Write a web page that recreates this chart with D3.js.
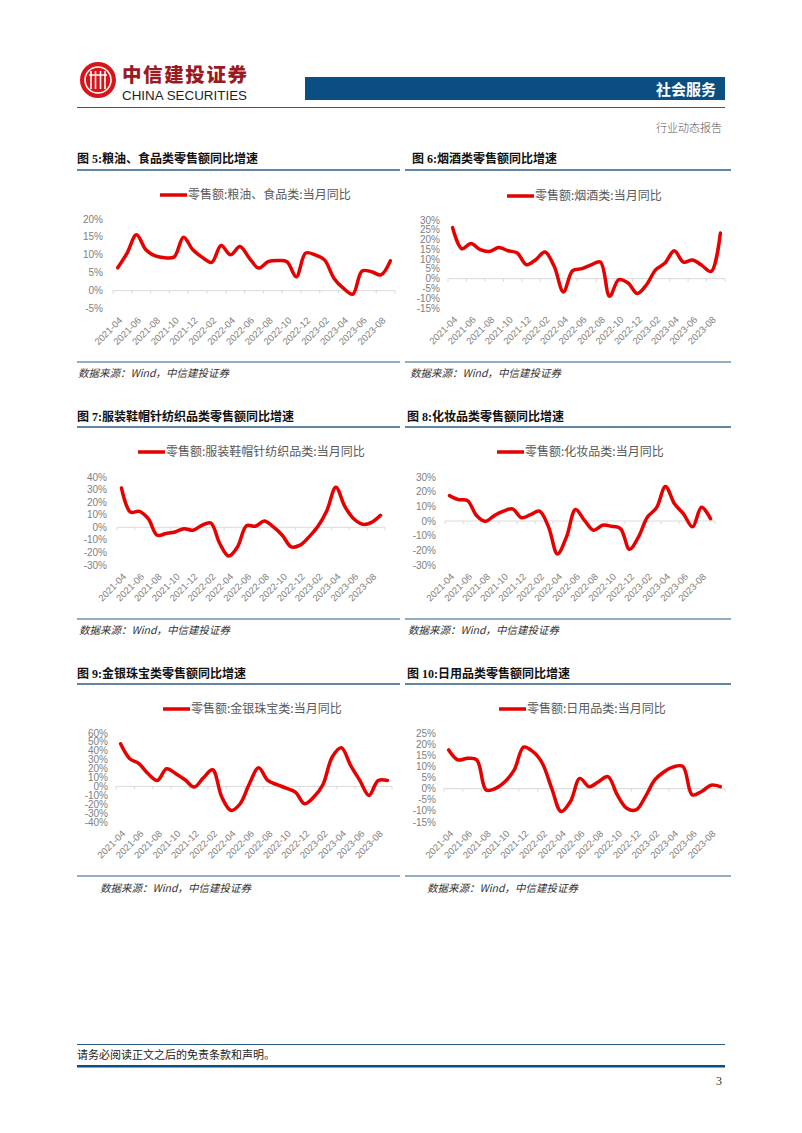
<!DOCTYPE html>
<html><head><meta charset="utf-8">
<script src="https://cdn.jsdelivr.net/npm/d3@7"></script>
<style>body{margin:0;background:#fff}svg{display:block}</style>
</head><body>
<svg id="page" width="802" height="1133"></svg>
<script>
// ---------------- data ----------------
const months = ["2021-04","2021-05","2021-06","2021-07","2021-08","2021-09","2021-10","2021-11","2021-12",
  "2022-01","2022-02","2022-03","2022-04","2022-05","2022-06","2022-07","2022-08","2022-09","2022-10","2022-11","2022-12",
  "2023-01","2023-02","2023-03","2023-04","2023-05","2023-06","2023-07","2023-08","2023-09"];
const tickMonths = months.filter((d, i) => i % 2 === 0);

const titles = ["图 5:粮油、食品类零售额同比增速","图 6:烟酒类零售额同比增速","图 7:服装鞋帽针纺织品类零售额同比增速",
  "图 8:化妆品类零售额同比增速","图 9:金银珠宝类零售额同比增速","图 10:日用品类零售额同比增速"];
const legendNames = ["零售额:粮油、食品类:当月同比","零售额:烟酒类:当月同比","零售额:服装鞋帽针纺织品类:当月同比",
  "零售额:化妆品类:当月同比","零售额:金银珠宝类:当月同比","零售额:日用品类:当月同比"];
const sourceText = "数据来源：Wind，中信建投证券";

const yTicksGrain    = [-5, 0, 5, 10, 15, 20];
const yTicksTobacco  = [-15, -10, -5, 0, 5, 10, 15, 20, 25, 30];
const yTicksClothing = [-30, -20, -10, 0, 10, 20, 30, 40];
const yTicksCosmetic = [-30, -20, -10, 0, 10, 20, 30];
const yTicksJewelry  = [-40, -30, -20, -10, 0, 10, 20, 30, 40, 50, 60];
const yTicksDaily    = [-15, -10, -5, 0, 5, 10, 15, 20, 25];

const grainFood = [6.4,10.5,15.6,11.4,9.7,9.2,9.4,14.9,11.4,9.3,7.9,12.6,10.0,12.3,9.1,6.3,8.1,8.4,8.1,3.9,10.5,10.0,8.6,3.5,0.7,-1.0,5.5,5.3,4.4,8.3];
const tobacco   = [26.1,15.3,18.0,14.8,13.9,16.0,14.3,13.1,7.1,9.7,13.6,6.3,-6.8,4.1,5.1,7.1,8.5,-9.0,-0.5,-2.2,-7.6,-3.1,4.6,8.0,14.3,8.5,9.5,6.8,3.7,23.3];
const clothing  = [31.3,12.1,12.6,6.8,-6.3,-5.0,-3.7,-1.1,-2.4,1.6,3.4,-12.9,-22.9,-15.5,1.3,0.8,5.0,0.3,-6.3,-15.5,-14.2,-7.6,0.8,13.4,31.8,16.6,6.8,2.4,3.9,9.5];
const cosmetics = [17.3,14.6,13.9,3.8,-0.2,3.8,6.7,8.3,2.2,4.3,6.7,-4.0,-22.5,-10.8,7.9,0.4,-6.3,-2.9,-3.6,-5.2,-19.3,-10.8,2.7,9.0,23.6,11.7,4.9,-4.0,9.4,1.6];
const jewelry   = [47.9,31.1,25.5,14.2,6.7,19.9,14.2,7.5,-0.7,9.7,18.7,-12.0,-27.0,-19.5,3.0,21.0,6.7,1.9,-1.9,-6.4,-19.5,-12.0,2.2,33.0,43.4,23.6,6.7,-10.1,6.7,6.7];
const daily     = [17.4,12.9,13.6,12.9,-0.6,0.1,3.1,8.4,18.6,16.6,11.4,0.1,-10.3,-5.8,4.6,0.9,3.1,5.4,-2.8,-8.8,-9.6,-3.6,3.9,7.6,9.8,10.0,-2.8,-1.3,1.5,0.9];

const seriesList = [grainFood, tobacco, clothing, cosmetics, jewelry, daily];
const tickList = [yTicksGrain, yTicksTobacco, yTicksClothing, yTicksCosmetic, yTicksJewelry, yTicksDaily];

// ---------------- layout ----------------
const layout = [
  {tx:77, ty:163, tl:[77,400], tly:170, bl:362, sx:78, sy:377, x0:113, x1:395, yt:219, yb:308.6, lr:103, lgx:160, lgy:195},
  {tx:412, ty:163, tl:[405,731], tly:170, bl:362, sx:410, sy:377, x0:448, x1:725, yt:220, yb:308, lr:440, lgx:507, lgy:196},
  {tx:77, ty:421, tl:[77,400], tly:427, bl:619, sx:79, sy:634, x0:117, x1:385, yt:477, yb:565, lr:107, lgx:138, lgy:452},
  {tx:407, ty:421, tl:[405,731], tly:427, bl:619, sx:408, sy:634, x0:445, x1:715, yt:477, yb:565, lr:436, lgx:497, lgy:452},
  {tx:77, ty:678, tl:[77,400], tly:684, bl:876, sx:100, sy:892, x0:116, x1:392, yt:733, yb:822, lr:108, lgx:163, lgy:709},
  {tx:407, ty:678, tl:[405,731], tly:684, bl:876, sx:427, sy:892, x0:444, x1:725, yt:733, yb:822, lr:436, lgx:499, lgy:709}
];

const RED = "#e60000", BLUE = "#0b4f82", LINEBLUE = "#2c5d87";
const sans = "'Liberation Sans', Arial, 'Noto Sans CJK SC', sans-serif";
const cjk = "'Noto Sans CJK SC', sans-serif";
const serifCjk = "'Liberation Serif', 'Noto Sans CJK SC', serif";

const svg = d3.select("#page");

// ---------------- header ----------------
const logo = svg.append("g").attr("transform", "translate(98,80)");
logo.append("circle").attr("r", 18).attr("fill", "#d7141a");
logo.append("circle").attr("r", 13).attr("fill", "none").attr("stroke", "#fff").attr("stroke-width", 1.6);
[-7, -2.5, 2.5, 7].forEach(dx => {
  logo.append("line").attr("x1", dx).attr("x2", dx).attr("y1", -9).attr("y2", 9).attr("stroke", "#fff").attr("stroke-width", 1.6);
});
logo.append("line").attr("x1", -9).attr("x2", 9).attr("y1", -5).attr("y2", -5).attr("stroke", "#fff").attr("stroke-width", 1.4);

svg.append("text").attr("x", 122).attr("y", 82).attr("font-family", cjk).attr("font-weight", 900)
  .attr("font-size", 19.5).attr("fill", "#9c1a1f").attr("textLength", 125).text("中信建投证券");
svg.append("text").attr("x", 122).attr("y", 100).attr("font-family", sans).attr("font-weight", 400)
  .attr("font-size", 12.5).attr("fill", "#231f20").attr("textLength", 125).attr("lengthAdjust", "spacingAndGlyphs").text("CHINA SECURITIES");

svg.append("rect").attr("x", 305).attr("y", 77).attr("width", 420).attr("height", 23).attr("fill", BLUE);
svg.append("text").attr("x", 716).attr("y", 95).attr("text-anchor", "end").attr("font-family", cjk)
  .attr("font-weight", 700).attr("font-size", 15).attr("fill", "#fff").text("社会服务");
svg.append("line").attr("x1", 77).attr("x2", 725).attr("y1", 107.5).attr("y2", 107.5).attr("stroke", LINEBLUE).attr("stroke-width", 1);
svg.append("text").attr("x", 722).attr("y", 132).attr("text-anchor", "end").attr("font-family", cjk)
  .attr("font-size", 11).attr("font-weight", 300).attr("fill", "#555").text("行业动态报告");

// ---------------- charts ----------------
layout.forEach((L, k) => {
  const g = svg.append("g");
  const values = seriesList[k];
  const yTicks = tickList[k];

  g.append("text").attr("x", L.tx).attr("y", L.ty).attr("font-family", serifCjk).attr("font-weight", 700)
    .attr("font-size", 12).attr("fill", "#111").text(titles[k]);
  g.append("line").attr("x1", L.tl[0]).attr("x2", L.tl[1]).attr("y1", L.tly).attr("y2", L.tly)
    .attr("stroke", LINEBLUE).attr("stroke-width", 1.5);
  g.append("line").attr("x1", L.tl[0]).attr("x2", L.tl[1]).attr("y1", L.bl).attr("y2", L.bl)
    .attr("stroke", LINEBLUE).attr("stroke-width", 1.2);
  g.append("text").attr("x", L.sx).attr("y", L.sy).attr("font-family", cjk).attr("font-style", "italic")
    .attr("font-size", 10.5).attr("fill", "#333").text(sourceText);

  const x = d3.scaleBand().domain(months).range([L.x0, L.x1]);
  const y = d3.scaleLinear().domain([yTicks[0], yTicks[yTicks.length - 1]]).range([L.yb, L.yt]);

  // y labels
  g.append("g").selectAll("text").data(yTicks).join("text")
    .attr("x", L.lr).attr("y", d => y(d)).attr("dy", "0.35em").attr("text-anchor", "end")
    .attr("font-family", sans).attr("font-size", 10).attr("fill", "#808080").text(d => d + "%");

  // zero axis line with ticks every 2 categories
  const y0 = y(0);
  g.append("line").attr("x1", L.x0).attr("x2", L.x1).attr("y1", y0).attr("y2", y0)
    .attr("stroke", "#d9d9d9").attr("stroke-width", 1);
  const bounds = months.map((m, i) => i).filter(i => i % 2 === 0).map(i => x(months[i]));
  bounds.push(L.x1);
  g.append("g").selectAll("line").data(bounds).join("line")
    .attr("x1", d => d).attr("x2", d => d).attr("y1", y0).attr("y2", y0 + 3)
    .attr("stroke", "#d9d9d9").attr("stroke-width", 1);

  // x labels
  g.append("g").selectAll("text").data(tickMonths).join("text")
    .attr("transform", d => `translate(${x(d) + x.bandwidth() / 2 + 3},${L.yb + 10}) rotate(-45)`)
    .attr("text-anchor", "end").attr("dy", "0.35em")
    .attr("font-family", sans).attr("font-size", 9.5).attr("fill", "#808080").text(d => d);

  // series line
  const line = d3.line().x((d, i) => x(months[i]) + x.bandwidth() / 2).y(d => y(d)).curve(d3.curveCatmullRom.alpha(0.5));
  g.append("path").datum(values).attr("d", line).attr("fill", "none").attr("stroke", RED)
    .attr("stroke-width", 3.5).attr("stroke-linejoin", "round").attr("stroke-linecap", "round");

  // legend
  g.append("line").attr("x1", L.lgx).attr("x2", L.lgx + 27).attr("y1", L.lgy).attr("y2", L.lgy)
    .attr("stroke", RED).attr("stroke-width", 3.5);
  g.append("text").attr("x", L.lgx + 28).attr("y", L.lgy).attr("dy", "0.36em").attr("font-family", cjk)
    .attr("font-size", 12).attr("fill", "#595959").text(legendNames[k]);
});

// ---------------- footer ----------------
svg.append("line").attr("x1", 77).attr("x2", 725).attr("y1", 1044.5).attr("y2", 1044.5).attr("stroke", LINEBLUE).attr("stroke-width", 1);
svg.append("text").attr("x", 77).attr("y", 1059).attr("font-family", cjk).attr("font-size", 11).attr("fill", "#222")
  .text("请务必阅读正文之后的免责条款和声明。");
svg.append("rect").attr("x", 77).attr("y", 1065).attr("width", 648).attr("height", 2.5).attr("fill", BLUE);
svg.append("text").attr("x", 722).attr("y", 1085).attr("text-anchor", "end").attr("font-family", "'Liberation Serif', serif")
  .attr("font-size", 12).attr("fill", "#333").text("3");
</script>
</body></html>
